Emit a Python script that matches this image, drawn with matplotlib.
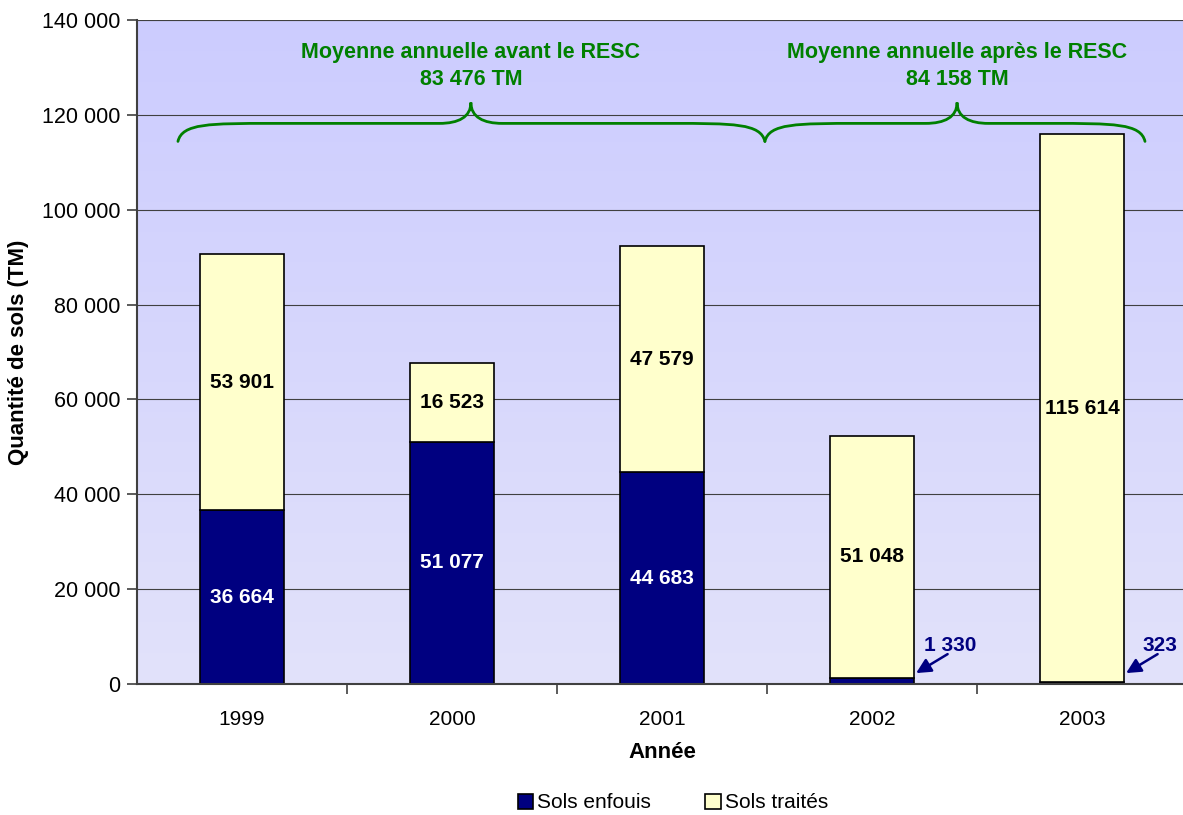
import numpy as np
import matplotlib
matplotlib.use("Agg")
import matplotlib.pyplot as plt
from matplotlib.path import Path
from matplotlib.patches import PathPatch
from matplotlib.ticker import FuncFormatter, MultipleLocator

plt.rcParams['font.family'] = ['Liberation Sans', 'DejaVu Sans']

years = ['1999', '2000', '2001', '2002', '2003']
sols_enfouis = [36664, 51077, 44683, 1330, 323]
sols_traites = [53901, 16523, 47579, 51048, 115614]
avg_labels = ["Moyenne annuelle avant le RESC\n83 476 TM",
              "Moyenne annuelle après le RESC\n84 158 TM"]

NAVY = '#000080'
CREAM = '#FFFFCC'
GREEN = '#008000'

fig = plt.figure(figsize=(11.83, 8.15), dpi=100)
W, H = 1183, 815
# axes in pixel coordinates: left 137, top 20, bottom 684, right 1187
ax = fig.add_axes([137 / W, (H - 684) / H, (1187 - 137) / W, (684 - 20) / H])

x = np.arange(len(years))
ax.set_xlim(-0.5, len(years) - 0.5)
ax.set_ylim(0, 140000)

# gradient background
grad = np.linspace(0, 1, 256).reshape(-1, 1)
top = np.array([204, 204, 255]) / 255
bot = np.array([226, 226, 250]) / 255
img = top[None, None, :] * (1 - grad[:, :, None]) + bot[None, None, :] * grad[:, :, None]
ax.imshow(img, extent=[-0.5, len(years) - 0.5, 0, 140000], aspect='auto',
          origin='upper', zorder=0)

ax.yaxis.set_major_locator(MultipleLocator(20000))
ax.grid(axis='y', color='#404040', linewidth=0.8, zorder=1)
ax.axhline(140000, color='#909090', linewidth=1.5, zorder=1)

bw = 0.4
ax.bar(x, sols_enfouis, bw, color=NAVY, edgecolor='black', linewidth=1.2,
       zorder=3, label='Sols enfouis')
ax.bar(x, sols_traites, bw, bottom=sols_enfouis, color=CREAM, edgecolor='black',
       linewidth=1.2, zorder=3, label='Sols traités')

def fmt(v):
    return f"{int(v):,}".replace(",", " ")

for i in range(len(years)):
    e, t = sols_enfouis[i], sols_traites[i]
    if e > 5000:
        ax.text(x[i], e / 2, fmt(e), ha='center', va='center', color='white',
                fontsize=15, fontweight='bold', zorder=4)
    ax.text(x[i], e + t / 2, fmt(t), ha='center', va='center', color='black',
            fontsize=15, fontweight='bold', zorder=4)

# small values with arrows
for i in [3, 4]:
    e = sols_enfouis[i]
    ax.text(x[i] + 0.37, 8100, fmt(e), ha='center', va='center',
            color=NAVY, fontsize=15, fontweight='bold', zorder=5)
    ax.annotate('', xy=(x[i] + bw / 2 + 0.01, 2300),
                xytext=(x[i] + 0.36, 6300),
                arrowprops=dict(arrowstyle='-|>', color=NAVY, lw=1.8,
                                mutation_scale=22, shrinkA=0, shrinkB=0),
                zorder=5)

# braces
def brace(x0, x1, xm, y_end, y_h, y_peak):
    d1 = 0.45
    d2 = 0.15
    verts = [(x0, y_end),
             (x0 + 0.02, y_h), (x0 + 0.15, y_h), (x0 + d1, y_h),
             (xm - d2, y_h),
             (xm - 0.06, y_h), (xm, y_h + 0.3 * (y_peak - y_h)), (xm, y_peak),
             (xm, y_h + 0.3 * (y_peak - y_h)), (xm + 0.06, y_h), (xm + d2, y_h),
             (x1 - d1, y_h),
             (x1 - 0.15, y_h), (x1 - 0.02, y_h), (x1, y_end)]
    codes = [Path.MOVETO,
             Path.CURVE4, Path.CURVE4, Path.CURVE4,
             Path.LINETO,
             Path.CURVE4, Path.CURVE4, Path.CURVE4,
             Path.CURVE4, Path.CURVE4, Path.CURVE4,
             Path.LINETO,
             Path.CURVE4, Path.CURVE4, Path.CURVE4]
    ax.add_patch(PathPatch(Path(verts, codes), fill=False, edgecolor=GREEN,
                           linewidth=2, zorder=5, capstyle='round'))

brace(-0.305, 2.49, 1.09, 114400, 118200, 122600)
brace(2.49, 4.3, 3.405, 114400, 118200, 122600)

ax.text(1.09, 130300, avg_labels[0], ha='center', va='center', color=GREEN,
        fontsize=15.5, fontweight='bold', linespacing=1.42, zorder=5)
ax.text(3.405, 130300, avg_labels[1], ha='center', va='center', color=GREEN,
        fontsize=15.5, fontweight='bold', linespacing=1.42, zorder=5)

# axes styling
ax.set_xticks(x)
ax.set_xticklabels(years, fontsize=15)
ax.tick_params(axis='x', which='major', length=0, pad=19)
ax.set_xticks(np.arange(len(years) - 1) + 0.5, minor=True)
ax.tick_params(axis='x', which='minor', length=7, width=1.2, color='#404040',
               direction='out')
ax.yaxis.set_major_formatter(FuncFormatter(lambda v, p: fmt(v)))
ax.tick_params(axis='y', labelsize=15.5, length=7, width=1.2, color='#404040',
               pad=5)
for s in ['top', 'right']:
    ax.spines[s].set_visible(False)
for s in ['left', 'bottom']:
    ax.spines[s].set_color('#404040')
    ax.spines[s].set_linewidth(1.5)
    ax.spines[s].set_zorder(6)

ax.set_xlabel('Année', fontsize=16, fontweight='bold', labelpad=9)
ax.set_ylabel('Quantité de sols (TM)', fontsize=16, fontweight='bold', labelpad=9)

fig.legend(loc='center', bbox_to_anchor=(673 / W, 1 - 803 / H), ncol=2,
           frameon=False, fontsize=15, handlelength=0.75, handleheight=0.75,
           handletextpad=0.2, columnspacing=2.6)
for h in fig.legends[0].legend_handles:
    h.set_edgecolor('black')
    h.set_linewidth(1.2)

fig.savefig('out.png', dpi=100)
